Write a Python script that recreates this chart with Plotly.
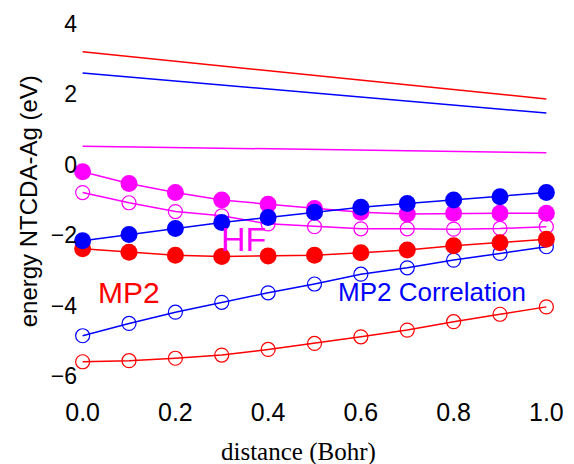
import plotly.graph_objects as go

distance = [0.0, 0.1, 0.2, 0.3, 0.4, 0.5, 0.6, 0.7, 0.8, 0.9, 1.0]
line_x = [0.0, 1.0]

# straight reference lines (no markers)
red_line = [3.21, 1.87]
blue_line = [2.61, 1.47]
magenta_line = [0.53, 0.34]

hf_filled = [-0.20, -0.53, -0.79, -1.00, -1.12, -1.24, -1.35, -1.40, -1.38, -1.38, -1.38]
hf_open = [-0.79, -1.08, -1.33, -1.45, -1.68, -1.76, -1.82, -1.82, -1.83, -1.81, -1.76]
blue_filled = [-2.16, -1.98, -1.81, -1.64, -1.50, -1.35, -1.21, -1.10, -1.00, -0.91, -0.79]
red_filled = [-2.39, -2.49, -2.57, -2.61, -2.59, -2.57, -2.50, -2.42, -2.30, -2.22, -2.12]
blue_open = [-4.86, -4.51, -4.19, -3.91, -3.64, -3.39, -3.11, -2.93, -2.71, -2.52, -2.33]
red_open = [-5.60, -5.57, -5.50, -5.41, -5.25, -5.08, -4.89, -4.70, -4.46, -4.25, -4.04]

RED, BLUE, MAG = "#ff0000", "#0000ff", "#ff00ff"

fig = go.Figure()

def plain(y, c):
    fig.add_trace(go.Scatter(x=line_x, y=y, mode="lines", line=dict(color=c, width=1.5),
                             showlegend=False, cliponaxis=False))

def filled(y, c):
    fig.add_trace(go.Scatter(x=distance, y=y, mode="lines+markers", line=dict(color=c, width=1.5),
                             marker=dict(color=c, size=17, symbol="circle"),
                             showlegend=False, cliponaxis=False))

def hollow(y, c):
    fig.add_trace(go.Scatter(x=distance, y=y, mode="lines+markers", line=dict(color=c, width=1.5),
                             marker=dict(color=c, size=14, symbol="circle-open",
                                         line=dict(color=c, width=1.2)),
                             showlegend=False, cliponaxis=False))

plain(red_line, RED)
plain(blue_line, BLUE)
plain(magenta_line, MAG)
hollow(red_open, RED)
hollow(blue_open, BLUE)
hollow(hf_open, MAG)
filled(hf_filled, MAG)
filled(red_filled, RED)
filled(blue_filled, BLUE)

sans = "Liberation Sans, Arial, sans-serif"
serif = "Liberation Serif, Times New Roman, serif"

fig.update_layout(
    width=574, height=464,
    margin=dict(l=78, r=17, t=10, b=69),
    paper_bgcolor="white", plot_bgcolor="white",
    xaxis=dict(range=[-0.01, 1.01], tickvals=[0, 0.2, 0.4, 0.6, 0.8, 1.0],
               ticktext=["0.0", "0.2", "0.4", "0.6", "0.8", "1.0"],
               showgrid=False, zeroline=False, showline=False, ticks="",
               tickfont=dict(family=sans, size=25, color="black")),
    yaxis=dict(range=[-6.545, 4.40], tickvals=[-6, -4, -2, 0, 2, 4],
               showgrid=False, zeroline=False, showline=False, ticks="",
               tickfont=dict(family=sans, size=23, color="black")),
    annotations=[
        dict(text="HF", x=0.346, y=-2.11, xref="x", yref="y", showarrow=False,
             font=dict(family=sans, size=34, color=MAG)),
        dict(text="MP2", x=0.0997, y=-3.617, xref="x", yref="y", showarrow=False,
             font=dict(family=sans, size=30, color=RED)),
        dict(text="MP2 Correlation", x=0.754, y=-3.63, xref="x", yref="y", showarrow=False,
             font=dict(family=sans, size=26, color=BLUE)),
        dict(text="energy NTCDA-Ag (eV)", x=-0.104, y=0.5026, xref="paper", yref="paper",
             textangle=-90, showarrow=False, xanchor="center", yanchor="middle",
             font=dict(family=sans, size=24, color="black")),
        dict(text="distance (Bohr)", x=0.4666, y=-0.148, xref="paper", yref="paper",
             showarrow=False, xanchor="center", yanchor="middle",
             font=dict(family=serif, size=25, color="black")),
    ],
)

fig.write_html("out.html", config={"displayModeBar": False},
               post_script="document.body.style.margin='0px';")
